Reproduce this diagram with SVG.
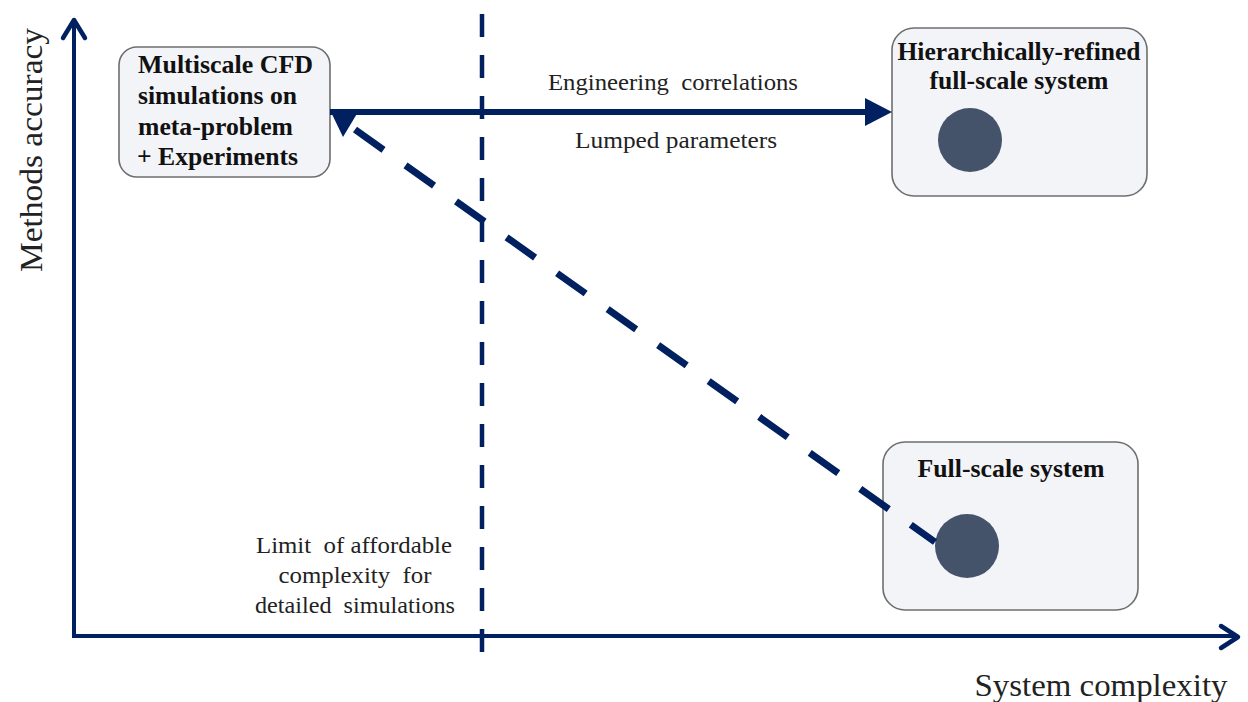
<svg xmlns="http://www.w3.org/2000/svg" width="1248" height="702" viewBox="0 0 1248 702">
<style>
.box{fill:#f3f4f8;stroke:#6e6e6e;stroke-width:1.6}
.dot{fill:#44526a}
.b{font-family:"Liberation Serif","Times New Roman",serif;font-weight:bold;font-size:24.5px;fill:#111}
.r{font-family:"Liberation Serif","Times New Roman",serif;font-size:24px;fill:#222}
.ax{font-family:"Liberation Serif","Times New Roman",serif;font-size:31px;fill:#222}
.navy{stroke:#002060;fill:none}
</style>
<rect width="1248" height="702" fill="#ffffff"/>
<g id="axes">
<path class="navy" d="M74 636 V20" stroke-width="4"/>
<path class="navy" d="M63 38 L74 20 L85 38" stroke-width="4.5" stroke-linecap="round" stroke-linejoin="round"/>
<path class="navy" d="M72 636 H1236" stroke-width="4"/>
<path class="navy" d="M1221 626 L1238 637 L1221 648" stroke-width="4.5" stroke-linecap="round" stroke-linejoin="round"/>
<text class="ax" x="1101" y="696" text-anchor="middle" textLength="253" lengthAdjust="spacingAndGlyphs">System complexity</text>
<text class="ax" transform="translate(42,150) rotate(-90)" text-anchor="middle" textLength="244" lengthAdjust="spacingAndGlyphs">Methods accuracy</text>
</g>
<g id="node-multiscale">
<rect class="box" x="119" y="47" width="211" height="130" rx="18"/>
<text class="b" x="138" y="73" textLength="175" lengthAdjust="spacingAndGlyphs">Multiscale CFD</text>
<text class="b" x="138" y="104" textLength="159" lengthAdjust="spacingAndGlyphs">simulations on</text>
<text class="b" x="138" y="135" textLength="155" lengthAdjust="spacingAndGlyphs">meta-problem</text>
<text class="b" x="137" y="165" textLength="161" lengthAdjust="spacingAndGlyphs">+ Experiments</text>
</g>
<g id="node-hierarchical">
<rect class="box" x="892" y="28" width="255" height="168" rx="22"/>
<text class="b" x="1019" y="60" text-anchor="middle" textLength="243" lengthAdjust="spacingAndGlyphs">Hierarchically-refined</text>
<text class="b" x="1019" y="89" text-anchor="middle" textLength="179" lengthAdjust="spacingAndGlyphs">full-scale system</text>
<circle class="dot" cx="970" cy="140" r="32"/>
</g>
<g id="node-fullscale">
<rect class="box" x="883" y="442" width="255" height="168" rx="22"/>
<text class="b" x="1011" y="477" text-anchor="middle" textLength="187" lengthAdjust="spacingAndGlyphs">Full-scale system</text>
<circle class="dot" cx="967" cy="546" r="32"/>
</g>
<g id="connectors">
<path class="navy" d="M482 14 V662" stroke-width="4.5" stroke-dasharray="23 18"/>
<path class="navy" d="M330 112 H868" stroke-width="6"/>
<polygon points="865,98 892,112 865,126" fill="#002060"/>
<path class="navy" d="M355 129.5 L935 542" stroke-width="7" stroke-dasharray="35 27"/>
<polygon points="330,110 358,112 343,137" fill="#002060"/>
</g>
<g id="labels">
<text class="r" x="673" y="90" text-anchor="middle" textLength="250" lengthAdjust="spacingAndGlyphs" xml:space="preserve">Engineering  correlations</text>
<text class="r" x="676" y="148" text-anchor="middle" textLength="202" lengthAdjust="spacingAndGlyphs">Lumped parameters</text>
<text class="r" x="354" y="553" text-anchor="middle" textLength="196" lengthAdjust="spacingAndGlyphs" xml:space="preserve">Limit  of affordable</text>
<text class="r" x="355" y="583" text-anchor="middle" textLength="153" lengthAdjust="spacingAndGlyphs" xml:space="preserve">complexity  for</text>
<text class="r" x="355" y="613" text-anchor="middle" textLength="200" lengthAdjust="spacingAndGlyphs" xml:space="preserve">detailed  simulations</text>
</g>
</svg>
